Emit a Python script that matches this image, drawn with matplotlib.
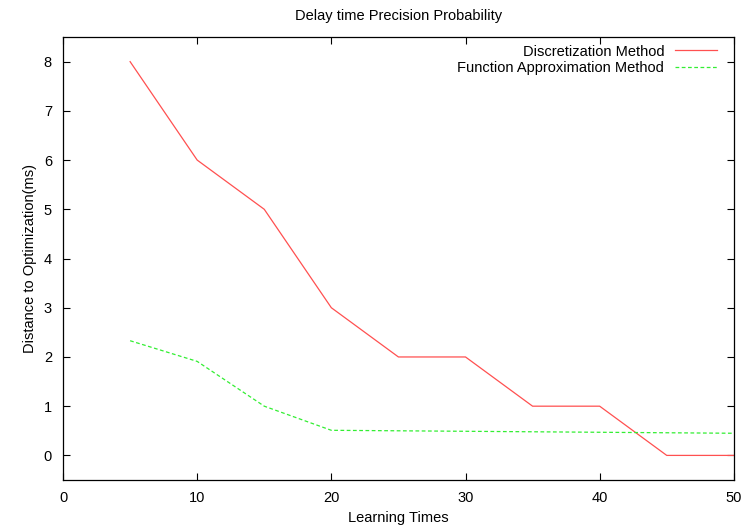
import matplotlib
matplotlib.use("Agg")
import matplotlib.pyplot as plt

plt.rcParams["font.family"] = ["Liberation Sans", "DejaVu Sans"]
plt.rcParams["font.size"] = 10.5

learning_times = [5, 10, 15, 20, 25, 30, 35, 40, 45, 50]
discretization = [8, 6, 5, 3, 2, 2, 1, 1, 0, 0]
function_approx = [2.33, 1.91, 1.0, 0.51, 0.50, 0.49, 0.48, 0.47, 0.46, 0.45]

fig = plt.figure(figsize=(7.45, 5.29), dpi=100)
ax = fig.add_axes([0.0846, 0.0926, 0.9004, 0.8374])

ax.plot(learning_times, discretization, color="#ff5050", lw=0.9,
        label="Discretization Method")
ax.plot(learning_times, function_approx, color="#33ee33", lw=0.9,
        linestyle=(0, (3, 2)), label="Function Approximation Method")

ax.set_xlim(0, 50)
ax.set_ylim(-0.5, 8.5)
ax.set_xticks(range(0, 51, 10))
ax.set_yticks(range(0, 9))
ax.tick_params(direction="in", top=True, right=True, length=5, width=0.8,
               pad=8)
for s in ax.spines.values():
    s.set_linewidth(0.9)

ax.set_xlabel("Learning Times", labelpad=4)
ax.set_ylabel("Distance to Optimization(ms)", labelpad=5)
ax.set_title("Delay time Precision Probability", fontsize=10.5, pad=12)

leg = ax.legend(loc="upper right", bbox_to_anchor=(0.9747, 0.983),
                frameon=False, markerfirst=False,
                handlelength=2.9, handletextpad=0.7, borderaxespad=0,
                borderpad=0, labelspacing=0.15)
for t in leg.get_texts():
    t.set_ha("right")

fig.savefig("out.png", dpi=100)
